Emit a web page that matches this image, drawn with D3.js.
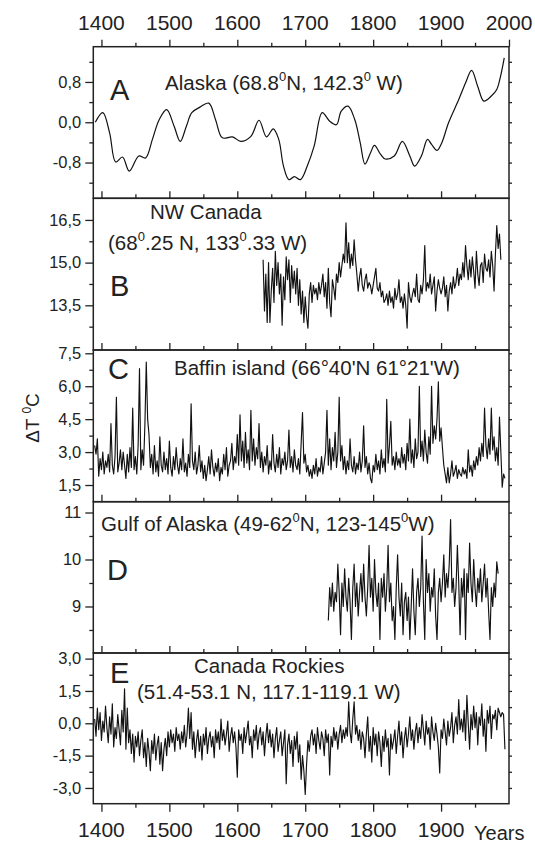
<!DOCTYPE html>
<meta charset="utf-8">
<style>
    body {
        margin: 0;
        background: #fff;
    }

    svg {
        font-family: "Liberation Sans", Arial, sans-serif;
        fill: #222;
    }

    .frame {
        fill: none;
        stroke: #222;
        stroke-width: 1.5;
    }

    .axis path {
        display: none;
    }

    .axis line {
        stroke: #222;
        stroke-width: 1.3;
    }

    .series {
        fill: none;
        stroke: #111;
        stroke-width: 1.15;
        stroke-linejoin: round;
    }
</style>
<body>
<script src="https://cdn.jsdelivr.net/npm/d3@7"></script>
<script>
    // ---- data ----

    // A: Alaska, smoothed curve
    const aYears = [1391, 1402, 1412, 1421, 1431, 1441, 1455, 1465, 1475, 1485, 1496, 1507, 1516, 1525, 1533,
        1545, 1558, 1568, 1578, 1593, 1605, 1620, 1632, 1643, 1653, 1661, 1668, 1676, 1684, 1693, 1703, 1713,
        1725, 1736, 1746, 1753, 1763, 1773, 1781, 1788, 1796, 1802, 1811, 1818, 1831, 1843, 1854, 1861, 1871,
        1880, 1886, 1894, 1901, 1911, 1926, 1936, 1945, 1954, 1963, 1974, 1982, 1987, 1993];
    const aValues = [0.0, 0.19, -0.21, -0.79, -0.69, -0.97, -0.67, -0.71, -0.34, 0.05, 0.25, -0.08, -0.38, -0.08, 0.19,
        0.30, 0.38, 0.05, -0.31, -0.29, -0.38, -0.28, 0.04, -0.29, -0.13, -0.34, -0.87, -1.14, -1.08, -1.14, -0.87, -0.48,
        0.19, 0.02, -0.05, 0.22, 0.32, 0.05, -0.41, -0.83, -0.61, -0.46, -0.64, -0.73, -0.67, -0.38, -0.67, -0.87, -0.67,
        -0.34, -0.44, -0.56, -0.41, -0.01, 0.45, 0.78, 1.03, 0.71, 0.42, 0.52, 0.65, 0.88, 1.28];

    // B: NW Canada, every 2nd year from 1638
    const bStart = 1638;
    const bValues = [
        15.1, 13.3, 14.6, 12.9, 15.0, 12.9, 14.0, 14.8, 13.6, 15.4,
        14.2, 15.0, 13.9, 14.6, 12.8, 14.5, 13.7, 15.2, 14.4, 15.1,
        13.6, 14.9, 14.1, 14.7, 13.9, 14.8, 13.5, 14.4, 13.2, 14.0,
        12.9, 13.8, 13.1, 12.7, 13.9, 14.3, 13.6, 14.2, 13.9, 14.1,
        13.7, 14.3, 13.9, 14.2, 14.6, 13.8, 14.3, 13.4, 14.8, 13.6,
        13.1, 14.4, 14.1, 13.7, 14.6, 14.3, 15.0, 14.5, 14.9, 15.3,
        15.0, 16.4, 15.0, 15.7, 14.8, 15.3, 14.9, 15.8, 15.1, 14.6,
        14.0, 14.5, 14.8, 14.2, 14.0, 14.4, 14.6, 14.1, 14.3, 14.2,
        13.9, 14.2, 14.5, 14.8, 14.1, 14.0, 14.3, 13.8, 14.0, 13.6,
        13.7, 13.9, 13.5, 14.0, 13.6, 13.8, 13.4, 14.1, 13.7, 13.9,
        14.4, 13.6, 13.8, 13.4, 13.9, 13.5, 12.7, 14.3, 13.8, 13.6,
        13.9, 14.1, 13.8, 14.6, 13.7, 13.6, 14.2, 13.9, 14.4, 15.6,
        14.0, 14.3, 14.1, 14.6, 13.9, 14.2, 14.5, 13.3, 14.0, 14.4,
        14.1, 13.9, 14.1, 14.5, 13.8, 14.2, 13.3, 14.0, 14.3, 13.9,
        14.5, 14.1, 14.3, 14.8, 14.2, 14.6, 14.4, 15.0, 14.5, 15.6,
        14.9, 14.4, 15.1, 14.5, 15.2, 14.7, 14.1, 15.4, 14.6, 14.2,
        14.9, 15.0, 14.3, 15.3, 14.8, 14.7, 15.1, 14.5, 15.4, 14.9,
        14.0, 15.3, 16.3, 15.5, 16.0, 15.1];

    // C: Baffin island, every 2nd year from 1390
    const cStart = 1390;
    const cValues = [
        3.3, 2.9, 3.6, 1.9, 2.7, 2.2, 3.0, 2.0, 2.6, 2.3,
        2.9, 2.1, 4.3, 2.4, 2.0, 2.8, 5.5, 2.1, 2.5, 3.1,
        2.2, 3.0, 2.4, 1.8, 2.9, 2.1, 3.2, 2.3, 5.0, 2.2,
        2.8, 2.0, 3.3, 6.8, 2.2, 3.1, 2.4, 4.3, 7.1, 4.5,
        3.8, 2.3, 2.9, 2.0, 3.3, 2.1, 2.6, 1.9, 3.7, 2.4,
        2.1, 3.0, 2.2, 2.7, 2.0, 3.5, 2.3, 1.9, 2.8, 2.2,
        3.2, 2.4, 2.0, 2.7, 2.2, 3.6, 2.1, 2.5, 1.9, 2.9,
        2.3, 5.2, 2.6, 2.2, 3.0, 2.0, 2.4, 3.3, 2.1, 2.6,
        1.8, 2.4, 1.7, 2.2, 2.8, 2.0, 3.1, 2.3, 1.9, 2.5,
        2.1, 2.7, 1.7, 2.3, 2.0, 2.9, 2.2, 3.2, 1.9, 2.4,
        2.6, 3.4, 2.2, 2.8, 2.5, 3.8, 2.4, 4.7, 2.6, 3.5,
        2.3, 3.9, 2.5, 3.1, 2.2, 4.9, 2.6, 3.6, 2.4, 3.2,
        2.7, 4.3, 2.3, 3.0, 2.1, 2.8, 2.4, 3.3, 2.0, 2.6,
        2.2, 3.8, 2.5, 2.1, 2.9, 2.3, 3.2, 2.0, 2.7, 2.4,
        3.0, 2.2, 2.6, 4.0, 2.3, 2.8, 2.1, 3.1, 2.4, 2.2,
        2.7, 2.0, 3.4, 4.8, 2.5, 2.9, 2.1, 2.4, 1.9, 2.2,
        1.8, 2.4, 2.0, 2.7, 1.9, 2.3, 2.1, 2.8, 2.0, 2.5,
        3.0, 4.9, 2.4, 3.6, 2.2, 3.2, 2.6, 3.9, 2.3, 3.0,
        5.5, 2.6, 3.3, 2.2, 2.8, 2.0, 2.6, 2.2, 3.6, 2.4,
        2.1, 2.8, 2.0, 2.5, 2.2, 3.0, 2.1, 2.6, 4.2, 2.3,
        2.8, 2.0, 2.5, 1.8, 1.6, 2.4, 2.1, 2.9, 2.2, 2.6,
        2.0, 3.1, 2.3, 2.7, 2.1, 5.4, 2.5, 3.3, 4.4, 2.4,
        2.8, 2.2, 3.0, 2.4, 2.7, 2.3, 3.2, 2.5, 2.9, 2.2,
        3.4, 2.6, 4.5, 2.5, 3.1, 2.3, 3.6, 2.7, 3.0, 6.0,
        2.8, 3.5, 2.6, 4.0, 3.0, 2.5, 3.7, 2.9, 6.0, 3.4,
        4.2, 3.6, 4.5, 6.2, 3.5, 4.1, 3.2, 2.4, 2.0, 1.6,
        2.3, 1.6, 2.0, 2.6, 1.9, 2.1, 2.4, 1.8, 2.2, 2.0,
        1.9, 2.3, 2.0, 2.2, 1.8, 3.1, 2.1, 2.4, 1.9, 2.6,
        2.2, 2.8, 2.4, 3.2, 2.6, 3.4, 2.8, 5.0, 3.3, 2.7,
        3.6, 2.9, 5.0, 3.1, 3.7, 2.6, 3.2, 2.4, 4.6, 3.0,
        1.4, 2.0, 1.8];

    // D: Gulf of Alaska, every 2nd year from 1734
    const dStart = 1734;
    const dValues = [
        8.7, 9.4, 9.0, 9.5, 8.9, 9.3, 9.1, 9.9, 9.3, 8.4,
        9.5, 9.0, 9.8, 9.2, 8.9, 9.6, 9.1, 8.3, 9.4, 9.9,
        9.0, 9.5, 8.8, 9.3, 9.7, 9.1, 9.9, 9.2, 8.8, 9.4,
        10.3, 9.2, 9.6, 8.9, 10.0, 9.3, 9.0, 9.5, 8.3, 9.6,
        9.2, 9.7, 8.9, 9.4, 10.3, 9.1, 9.5, 8.7, 9.0, 8.3,
        9.4, 10.1, 9.2, 8.8, 9.5, 8.4, 9.1, 9.3, 8.7, 9.2,
        8.3, 9.0, 9.8, 8.9, 8.4, 9.3, 9.6, 9.0, 9.4, 10.5,
        9.1, 8.3, 10.0, 9.3, 9.7, 8.9, 9.4, 9.2, 9.8, 8.8,
        8.3, 9.3, 9.6, 9.1, 9.5, 10.1, 9.2, 9.7, 9.4, 9.9,
        10.85, 9.3, 9.6, 9.0, 9.4, 10.3, 9.5, 8.4, 9.6, 9.2,
        9.8, 8.3, 9.7, 9.3, 10.35, 9.5, 9.1, 10.0, 9.4, 9.0,
        9.6, 9.3, 9.8, 9.1, 9.5, 9.9, 9.2, 9.6, 8.9, 8.3,
        9.4, 9.0, 9.5, 9.2, 9.95, 9.7];

    // E: Canada Rockies, every 2nd year from 1390
    const eStart = 1390;
    const eValues = [
        0.2, -0.6, 0.7, -0.3, 0.5, -0.8, 0.1, -0.4, 0.8, -0.2,
        -0.9, 0.3, -0.5, 0.9, -1.1, -0.2, -0.7, 0.4, -0.3, -1.0,
        0.6, -0.4, 1.6, -1.2, 0.7, -0.9, -0.3, -1.4, -0.5, -1.8,
        -0.6, -1.1, -0.4, -1.5, -0.8, -0.3, -1.6, -0.9, -2.0, -0.7,
        -1.3, -2.2, -0.8, -1.4, -0.5, -1.7, -1.0, -0.6, -1.9, -0.9,
        -2.2, -1.2, -0.7, -1.5, -0.4, -1.1, -0.3, -0.9, -0.5, -1.3,
        -0.2, -0.8, -0.5, -1.2, -0.4, -0.9, -0.1, -1.1, -0.5, 0.7,
        -0.7, 0.5, -1.2, -0.4, -1.6, -0.8, -0.3, -1.3, -0.6, -1.7,
        -0.5, -1.0, -0.2, -1.4, -0.7, -0.4, -1.1, -0.6, -1.6, -0.3,
        -0.9, -0.4, -1.2, 0.2, -0.8, -0.3, -1.0, -0.5, 0.1, -1.3,
        -0.6, -0.2, -0.9, -0.4, -1.1, -2.5, -0.3, -0.8, -0.5, -1.4,
        -0.2, -0.9, -0.4, 0.1, -1.0, -0.6, -1.6, -0.3, -0.8, -0.1,
        -1.2, -0.5, -0.2, -1.0, -0.4, -1.5, -0.6, 0.0, -0.9, -0.3,
        -1.1, -0.5, -1.6, -0.7, -0.2, -1.3, -0.8, -0.4, -1.5, -0.9,
        -0.3, -2.8, -1.0, -0.5, -1.4, -0.8, -2.0, -0.6, -1.2, -0.4,
        -1.8, -1.0, -2.6, -1.5, -2.2, -3.3, -1.9, -0.8, -1.3, -0.6,
        -0.3, -1.0, -0.5, -1.4, -0.2, -0.8, -1.2, -0.4, -0.7, -1.5,
        -0.3, -0.9, -0.5, -2.4, -0.6, -1.1, -0.2, -0.8, -0.4, -1.2,
        -0.5, -0.1, -0.9, -0.3, -0.7, -0.2, -0.6, 1.0, -0.4, -0.9,
        0.2, 1.0, -0.5, -0.1, -0.8, -0.3, -1.2, -0.4, -0.7, -1.6,
        -0.5, 0.3, -1.3, -0.6, -1.8, -0.2, -1.0, -0.5, -1.5, -0.4,
        -0.9, -2.0, -0.6, -1.3, -0.3, -1.1, -0.7, -2.4, -0.5, -1.2,
        -0.8, -0.3, -1.4, -0.6, 0.1, -1.0, -0.4, -1.6, -0.7, -0.2,
        -1.1, -0.5, 0.3, -0.8, -0.3, -1.2, -0.4, 0.0, -0.9, -0.2,
        -0.7, 0.4, -0.3, -1.0, 0.1, -0.5, -0.2, -1.2, 0.3, -0.4,
        -0.8, 0.0, -0.5, -1.1, -2.3, -0.3, -0.7, 0.2, -0.4, -1.0,
        0.1, -0.6, -0.2, 0.5, -0.9, -0.1, 0.3, -0.5, 1.1, -0.3,
        0.2, -0.4, 0.6, -0.8, 1.3, 0.0, -1.2, 0.4, -0.3, 0.8,
        -0.2, 0.5, -1.0, 0.3, -0.1, 0.9, -0.6, 0.2, -1.3, 0.6,
        0.0, 0.8, -0.7, 0.4, 0.2, 0.6, -0.3, 0.7, 0.5, 0.3,
        0.5, 0.4, -1.2];

    // tick values
    const yearMajor = [1400, 1500, 1600, 1700, 1800, 1900, 2000];
    const yearMinor = [1450, 1550, 1650, 1750, 1850, 1950];
    const yearLabelsBottom = [1400, 1500, 1600, 1700, 1800, 1900];
    const aTicks = [-0.8, 0, 0.8], aMinor = [-1.2, -0.4, 0.4, 1.2];
    const bTicks = [13.5, 15, 16.5], bMinor = [12.75, 14.25, 15.75];
    const cTicks = [1.5, 3, 4.5, 6, 7.5], cMinor = [2.25, 3.75, 5.25, 6.75];
    const dTicks = [9, 10, 11], dMinor = [8.5, 9.5, 10.5];
    const eTicks = [-3, -1.5, 0, 1.5, 3], eMinor = [-2.25, -0.75, 0.75, 2.25];

    // ---- layout ----
    const width = 535, height = 843;
    const plotLeft = 93.3, plotRight = 509;

    const x = d3.scaleLinear().domain([1388, 2000]).range([plotLeft, plotRight]);

    const svg = d3.select('body').append('svg')
        .attr('width', width)
        .attr('height', height);

    const twoYear = (start, vals) => vals.map((v, i) => ({year: start + 2 * i, v: v}));

    // comma decimals like the original
    const fmt1 = d => d3.format('.1f')(d).replace('.', ',').replace('\u2212', '-');
    const fmt0 = d => d3.format('d')(d);

    const panels = [
        {id: 'A', top: 46.7, bottom: 198.3, domain: [-1.51, 1.50], ticks: aTicks, minor: aMinor, fmt: fmt1,
            data: aYears.map((y, i) => ({year: y, v: aValues[i]})), smooth: true},
        {id: 'B', top: 198.3, bottom: 350, domain: [11.93, 17.26], ticks: bTicks, minor: bMinor, fmt: fmt1,
            data: twoYear(bStart, bValues)},
        {id: 'C', top: 350, bottom: 501.7, domain: [0.74, 7.65], ticks: cTicks, minor: cMinor, fmt: fmt1,
            data: twoYear(cStart, cValues)},
        {id: 'D', top: 501.7, bottom: 653, domain: [8.01, 11.23], ticks: dTicks, minor: dMinor, fmt: fmt0,
            data: twoYear(dStart, dValues)},
        {id: 'E', top: 653, bottom: 803.7, domain: [-3.73, 3.26], ticks: eTicks, minor: eMinor, fmt: fmt1,
            data: twoYear(eStart, eValues)}
    ];

    panels.forEach((p, i) => {
        const y = d3.scaleLinear().domain(p.domain).range([p.bottom, p.top]);
        const g = svg.append('g').attr('class', 'panel panel-' + p.id);

        g.append('clipPath').attr('id', 'clip-' + p.id)
            .append('rect')
            .attr('x', plotLeft).attr('y', p.top)
            .attr('width', plotRight - plotLeft).attr('height', p.bottom - p.top);

        const line = d3.line()
            .x(d => x(d.year))
            .y(d => y(d.v));
        if (p.smooth) line.curve(d3.curveCatmullRom.alpha(0.5));

        g.append('path')
            .datum(p.data)
            .attr('class', 'series')
            .attr('clip-path', 'url(#clip-' + p.id + ')')
            .style('stroke-width', p.smooth ? 1.2 : null)
            .attr('d', line);

        // left axis, outward ticks
        g.append('g').attr('class', 'axis')
            .attr('transform', 'translate(' + plotLeft + ',0)')
            .call(d3.axisLeft(y).tickValues(p.ticks).tickSize(8).tickPadding(4).tickFormat(p.fmt))
            .call(a => a.selectAll('text')
                .style('font-family', '"Liberation Sans", Arial, sans-serif')
                .style('font-size', '16.5px')
                .attr('fill', '#222'));
        g.append('g').attr('class', 'axis')
            .attr('transform', 'translate(' + plotLeft + ',0)')
            .call(d3.axisLeft(y).tickValues(p.minor).tickSize(4).tickFormat(''));

        // right side small ticks
        g.append('g').attr('class', 'axis')
            .attr('transform', 'translate(' + plotRight + ',0)')
            .call(d3.axisRight(y).tickValues(p.ticks.concat(p.minor)).tickSize(3).tickFormat(''));

        // bottom edge: inward ticks, outward for the last panel
        const last = i === panels.length - 1;
        g.append('g').attr('class', 'axis')
            .attr('transform', 'translate(0,' + p.bottom + ')')
            .call((last ? d3.axisBottom(x) : d3.axisTop(x))
                .tickValues(yearMajor.slice(0, 6)).tickSize(last ? 8 : 7).tickFormat(''));
        g.append('g').attr('class', 'axis')
            .attr('transform', 'translate(0,' + p.bottom + ')')
            .call((last ? d3.axisBottom(x) : d3.axisTop(x)).tickValues(yearMinor).tickSize(4).tickFormat(''));

        g.append('rect')
            .attr('class', 'frame')
            .attr('x', plotLeft).attr('y', p.top)
            .attr('width', plotRight - plotLeft).attr('height', p.bottom - p.top);
    });

    // top axis of panel A, outward
    const topY = panels[0].top;
    svg.append('g').attr('class', 'axis')
        .attr('transform', 'translate(0,' + topY + ')')
        .call(d3.axisTop(x).tickValues(yearMajor).tickSize(7).tickFormat(''));
    svg.append('g').attr('class', 'axis')
        .attr('transform', 'translate(0,' + topY + ')')
        .call(d3.axisTop(x).tickValues(yearMinor).tickSize(4).tickFormat(''));

    svg.append('g').selectAll('text')
        .data(yearMajor)
        .enter().append('text')
        .attr('x', d => x(d))
        .attr('y', 29.5)
        .attr('text-anchor', 'middle')
        .style('font-size', '21px')
        .text(d => d);

    svg.append('g').selectAll('text')
        .data(yearLabelsBottom)
        .enter().append('text')
        .attr('x', d => x(d))
        .attr('y', 837)
        .attr('text-anchor', 'middle')
        .style('font-size', '21px')
        .text(d => d);

    svg.append('text')
        .attr('x', 474)
        .attr('y', 840)
        .style('font-size', '20px')
        .text('Years');

    // text with superscript zeros: segments [text, isSup]
    function label(xp, yp, size, parts) {
        const t = svg.append('text')
            .attr('x', xp)
            .attr('y', yp)
            .style('font-size', size + 'px');
        let shifted = false;
        parts.forEach(pt => {
            const s = t.append('tspan').text(pt[0]);
            if (pt[1]) {
                s.style('font-size', Math.round(size * 0.62) + 'px').attr('dy', -size * 0.42);
                shifted = true;
            } else if (shifted) {
                s.attr('dy', size * 0.42);
                shifted = false;
            }
        });
        return t;
    }

    // panel letters
    label(110, 99.5, 29, [['A']]);
    label(110, 296, 29, [['B']]);
    label(108, 378.5, 29, [['C']]);
    label(107, 580, 29, [['D']]);
    label(110, 683, 29, [['E']]);

    // station names
    label(165, 89.5, 20.5, [['Alaska (68.8'], ['0', true], ['N, 142.3'], ['0', true], [' W)']]);
    label(150, 219, 20.5, [['NW Canada']]);
    label(108, 250, 20.5, [['(68'], ['0', true], ['.25 N, 133'], ['0', true], ['.33 W)']]);
    label(174, 375, 20.5, [['Baffin island (66°40\'N 61°21\'W)']]);
    label(101, 531, 20.5, [['Gulf of Alaska (49-62'], ['0', true], ['N, 123-145'], ['0', true], ['W)']]);
    label(194, 673, 20.5, [['Canada Rockies']]);
    label(137, 699, 20.5, [['(51.4-53.1 N, 117.1-119.1 W)']]);

    // y title
    label(0, 0, 19, [['\u0394T '], ['0', true], ['C']])
        .attr('text-anchor', 'middle')
        .attr('transform', 'translate(39,418) rotate(-90)');
</script>
</body>
</html>
